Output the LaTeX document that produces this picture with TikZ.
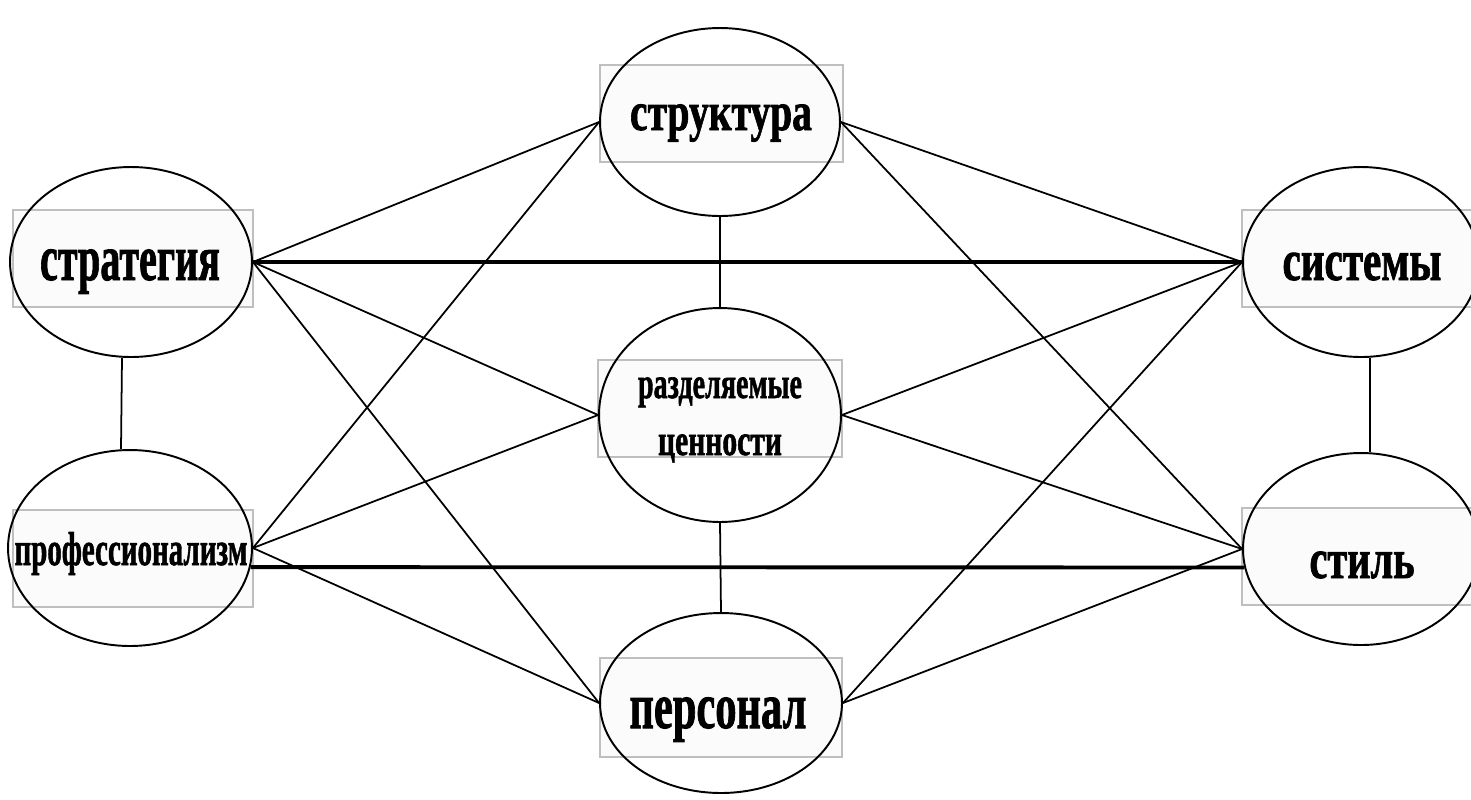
\documentclass[tikz,border=0pt]{standalone}
\usepackage{fontspec}
\setmainfont{Liberation Serif}[BoldFeatures={FakeBold=1.5}]
\usepackage{graphicx}
\usetikzlibrary{shapes.geometric}
\newcommand{\lbl}[3]{{\fontsize{#1}{#1}\selectfont\bfseries\resizebox{#2}{\height}{#3}}}
\tikzset{
  oval/.style={ellipse, draw=black, line width=1.1pt, inner sep=0pt},
  txtframe/.style={draw=gray!50, line width=0.6pt, fill=gray!3},
  txt/.style={anchor=base, inner sep=0pt},
  link/.style={draw=black, line width=1pt},
  mainlink/.style={draw=black, line width=2.2pt},
}
\begin{document}
\begin{tikzpicture}[x=0.02cm, y=-0.02cm]
\clip (0,0) rectangle (1471,799);
\fill[white] (0,0) rectangle (1471,799);
% text frames
\draw[txtframe] (600,65) rectangle (843,162);
\draw[txtframe] (13,210) rectangle (253,307);
\draw[txtframe] (1242,210) rectangle (1480,307);
\draw[txtframe] (598,360) rectangle (842,457);
\draw[txtframe] (13,510) rectangle (253,607);
\draw[txtframe] (1242,508) rectangle (1480,605);
\draw[txtframe] (600,658) rectangle (842,757);
% ellipses
\node[oval, minimum width=4.8cm, minimum height=3.76cm] (struct) at (720,122) {};
\node[oval, minimum width=4.84cm, minimum height=3.8cm] (strat) at (131,262) {};
\node[oval, minimum width=4.72cm, minimum height=3.8cm] (sys) at (1361,262) {};
\node[oval, minimum width=4.84cm, minimum height=4.28cm] (shared) at (720,415) {};
\node[oval, minimum width=4.88cm, minimum height=3.92cm] (prof) at (130,548) {};
\node[oval, minimum width=4.72cm, minimum height=3.84cm] (style) at (1361,549) {};
\node[oval, minimum width=4.84cm, minimum height=3.6cm] (staff) at (721,703) {};
% labels
\node[txt] (tstruct) at (721,130) {\lbl{31}{3.64cm}{структура}};
\node[txt] (tstrat) at (130,280) {\lbl{37}{3.6cm}{стратегия}};
\node[txt] (tsys) at (1362,280) {\lbl{33}{3.18cm}{системы}};
\node[txt] (tstyle) at (1362,578) {\lbl{32}{2.1cm}{стиль}};
\node[txt] (tprof) at (131,565) {\lbl{27}{4.66cm}{профессионализм}};
\node[txt] (tshared) at (720,398) {\lbl{25}{3.28cm}{разделяемые}};
\node[txt] (tval) at (720,455) {\lbl{25}{2.48cm}{ценности}};
\node[txt] (tstaff) at (718,728) {\lbl{37}{3.54cm}{персонал}};
% main links
\draw[mainlink] (strat.east) -- (sys.west);
\draw[mainlink] (prof.-9) -- (style.189);
% other links
\draw[link] (struct.west) -- (strat.east);
\draw[link] (struct.east) -- (sys.west);
\draw[link] (struct.west) -- (prof.east);
\draw[link] (struct.east) -- (style.west);
\draw[link] (strat.east) -- (shared.west);
\draw[link] (strat.east) -- (staff.west);
\draw[link] (sys.west) -- (shared.east);
\draw[link] (sys.west) -- (staff.east);
\draw[link] (prof.east) -- (shared.west);
\draw[link] (prof.east) -- (staff.west);
\draw[link] (style.west) -- (shared.east);
\draw[link] (style.west) -- (staff.east);
\draw[link] ([xshift=-0.18cm]strat.south) -- ([xshift=-0.18cm]prof.north);
\draw[link] ([xshift=0.18cm]sys.south) -- ([xshift=0.18cm]style.north);
\draw[link] (struct.south) -- (shared.north);
\draw[link] (shared.south) -- (staff.north);
\end{tikzpicture}
\end{document}
